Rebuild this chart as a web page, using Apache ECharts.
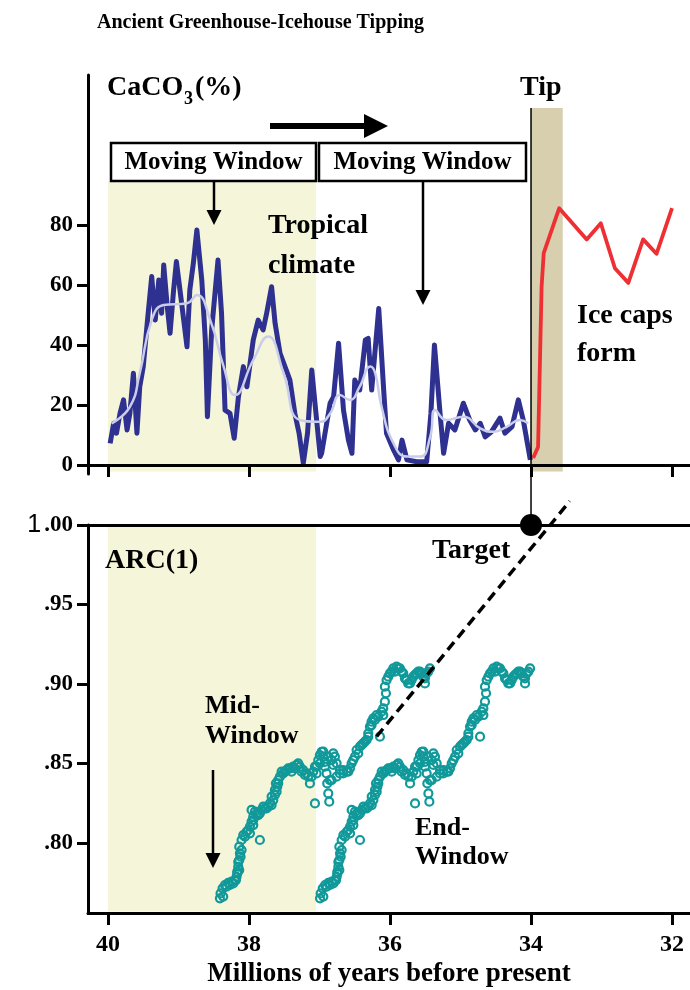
<!DOCTYPE html>
<html>
<head>
<meta charset="utf-8">
<script src="https://cdn.jsdelivr.net/npm/echarts@6/dist/echarts.min.js"></script>
<style>
  html, body { margin: 0; padding: 0; background: #fff; }
  #chart { width: 690px; height: 990px; }
</style>
</head>
<body>
<div id="chart"></div>
<script>
// ---- Data -------------------------------------------------------------
// Age axis (millions of years before present)
const ageTicks = [40, 38, 36, 34, 32];
const caco3Ticks = [0, 20, 40, 60, 80];
const arcTicks = [0.80, 0.85, 0.90, 0.95, 1.00];

// CaCO3 record before the tipping point
const caco3Age = [39.97,39.92,39.88,39.83,39.78,39.73,39.69,39.64,39.59,39.55,39.50,39.44,39.38,39.33,39.28,39.24,39.21,39.16,39.12,39.07,39.03,38.95,38.88,38.84,38.79,38.74,38.67,38.62,38.59,38.53,38.44,38.39,38.34,38.27,38.21,38.15,38.08,38.03,37.94,37.87,37.80,37.75,37.68,37.63,37.56,37.49,37.42,37.35,37.29,37.23,37.17,37.11,37.05,36.99,36.97,36.85,36.80,36.73,36.66,36.59,36.54,36.50,36.43,36.35,36.31,36.26,36.16,36.09,36.05,35.95,35.88,35.83,35.76,35.62,35.48,35.42,35.37,35.29,35.24,35.17,35.08,34.96,34.87,34.79,34.72,34.65,34.56,34.44,34.37,34.27,34.18,34.11,34.01];
const caco3Value = [7.2,13.9,10.6,17.2,21.7,11.7,17.2,30.6,10.6,26.1,32.8,48.3,62.8,48.3,61.7,50.6,66.7,52.8,43.9,58.3,67.8,52.8,39.4,58.3,67.2,78.3,61.7,41.7,16.1,45,68.3,50.6,18.3,17.2,8.9,22.8,32.8,26.1,41.7,48.3,45,50.6,59.4,47.2,37.2,32.8,28.3,17.2,10.6,0.6,10.6,31.7,17.2,2.8,3.9,20.6,22.8,40.6,18.3,8.3,3.9,28.3,25,41.7,42.2,25,52.2,25,10.6,5,1.7,8.3,1.7,1.1,1.1,17.2,40,17.2,3.9,13.9,11.7,20.6,15,11.7,13.9,9.4,11.1,15.6,10.6,12.8,21.7,15,1.7];

// Smoothed CaCO3 trend
const smoothAge = [39.95,39.69,39.55,39.38,39.21,38.88,38.74,38.55,38.36,38.20,37.94,37.73,37.51,37.28,36.99,36.85,36.71,36.57,36.43,36.28,36.21,36.12,35.95,35.76,35.57,35.43,35.36,35.20,34.96,34.72,34.53,34.34,34.16,34.04];
const smoothValue = [13.9,19.4,30.6,48.3,53.3,53.9,56.7,48.3,32.8,23.3,35,42.8,30.6,15,14.4,17.2,23.3,21.7,26.1,32.8,30.6,19.4,7.2,2.8,2.8,9.4,18.3,15,16.1,12.2,11.1,12.8,15,13.9];

// CaCO3 after the tip (ice caps)
const iceAge = [33.97,33.90,33.85,33.82,33.60,33.21,33.01,32.81,32.62,32.41,32.22,32.00];
const iceValue = [2.3,6,59.4,70.6,85.6,75.2,80.6,65.6,60.7,75.2,70.4,85.6];

// ARC(1) indicator, stamped at the window end and at the window middle
const arcValues = [.7652,.7683,.7715,.7736,.7750,.7757,.7763,.7788,.7820,.7851,
  .7893,.7935,.7977,.8019,.8050,.8071,.8103,.8134,.8166,.8197,
  .8208,.8145,.8176,.8019,.8208,.8218,.8229,.8239,.8270,.8302,
  .8323,.8354,.8396,.8417,.8438,.8459,.8470,.8480,.8491,.8480,
  .8459,.8438,.8375,.8417,.8449,.8249,.8480,.8522,.8553,.8574,
  .8543,.8511,.8438,.8375,.8312,.8260,.8396,.8522,.8564,.8543,
  .8501,.8459,.8438,.8449,.8470,.8522,.8543,.8585,.8606,.8627,
  .8648,.8690,.8732,.8763,.8784,.8805,.8669,.8826,.8847,.8983,
  .9025,.9067,.9098,.9109,.9098,.9067,.9025,.9004,.9046,.9067,
  .9078,.9046,.9004,.9067,.9098,
  .7663,.7725,.7736,.7746,.7767,.7809,.7830,.7882,.7914,.7956,
  .8040,.8082,.8061,.8113,.8187,.8187,.8229,.8218,.8250,.8292,
  .8334,.8376,.8376,.8449,.8449,.8470,.8449,.8470,.8501,.8449,
  .8428,.8417,.8480,.8438,.8501,.8575,.8480,.8543,.8396,.8491,
  .8417,.8438,.8459,.8449,.8501,.8564,.8617,.8638,.8669,.8742,
  .8774,.8795,.8805,.8889,.8942,.9046,.9078,.9078,.9099,.9078,
  .9036,.9004,.9025,.9057,.9078,.9067,.9036,.9078];
const endWindowAge = [36.993,36.984,36.955,36.922,36.875,36.827,36.780,36.757,36.747,36.733,
  36.719,36.709,36.719,36.686,36.662,36.615,36.567,36.544,36.520,36.497,
  36.544,36.520,36.449,36.426,36.402,36.355,36.307,36.260,36.236,36.213,
  36.189,36.180,36.166,36.142,36.095,36.047,36.000,35.953,35.905,35.858,
  35.811,35.764,35.716,35.693,35.669,35.645,35.622,35.598,35.575,35.551,
  35.527,35.504,35.480,35.471,35.456,35.442,35.433,35.409,35.385,35.362,
  35.338,35.291,35.244,35.196,35.149,35.102,35.078,35.054,35.007,34.960,
  34.913,34.889,34.865,34.842,34.818,34.771,34.723,34.700,34.676,34.653,
  34.629,34.582,34.534,34.487,34.440,34.392,34.345,34.298,34.251,34.203,
  34.156,34.109,34.085,34.062,34.014,
  36.946,36.898,36.851,36.804,36.766,36.747,36.719,36.733,36.700,36.686,
  36.638,36.591,36.567,36.520,36.473,36.426,36.378,36.331,36.284,36.260,
  36.213,36.199,36.166,36.118,36.071,36.024,35.976,35.929,35.882,35.835,
  35.787,35.740,35.645,35.622,35.575,35.527,35.504,35.456,35.409,35.385,
  35.338,35.291,35.244,35.173,35.125,35.031,34.983,34.936,34.889,34.842,
  34.794,34.747,34.676,34.653,34.638,34.605,34.558,34.511,34.463,34.416,
  34.369,34.322,34.274,34.227,34.180,34.132,34.085,34.038];
const midWindowAge = [38.413,38.404,38.375,38.342,38.295,38.247,38.200,38.177,38.167,38.153,
  38.139,38.129,38.139,38.106,38.082,38.035,37.987,37.964,37.940,37.917,
  37.964,37.940,37.869,37.846,37.822,37.775,37.727,37.680,37.656,37.633,
  37.609,37.600,37.586,37.562,37.515,37.467,37.420,37.373,37.325,37.278,
  37.231,37.184,37.136,37.113,37.089,37.065,37.042,37.018,36.995,36.971,
  36.947,36.924,36.900,36.891,36.876,36.862,36.853,36.829,36.805,36.782,
  36.758,36.711,36.664,36.616,36.569,36.522,36.498,36.474,36.427,36.380,
  36.333,36.309,36.285,36.262,36.238,36.191,36.143,36.120,36.096,36.073,
  36.049,36.002,35.954,35.907,35.860,35.812,35.765,35.718,35.671,35.623,
  35.576,35.529,35.505,35.482,35.434,
  38.366,38.318,38.271,38.224,38.186,38.167,38.139,38.153,38.120,38.106,
  38.058,38.011,37.987,37.940,37.893,37.846,37.798,37.751,37.704,37.680,
  37.633,37.619,37.586,37.538,37.491,37.444,37.396,37.349,37.302,37.255,
  37.207,37.160,37.065,37.042,36.995,36.947,36.924,36.876,36.829,36.805,
  36.758,36.711,36.664,36.593,36.545,36.451,36.403,36.356,36.309,36.262,
  36.214,36.167,36.096,36.073,36.058,36.025,35.978,35.931,35.883,35.836,
  35.789,35.742,35.694,35.647,35.600,35.552,35.505,35.458];

// Extrapolated trend toward ARC(1) = 1
const trendAge = [36.19, 33.45];
const trendValue = [0.867, 1.015];

// Tipping point target
const tipAge = 34.0;
const targetArc = 1.0;

// Shaded spans (ages)
const windowSpan = [40.0, 37.05];
const tipSpan = [34.0, 33.55];

// ---- Styling helpers ----------------------------------------------------
const SERIF = '"Liberation Serif", "Times New Roman", serif';
const SANS = '"Liberation Sans", Arial, sans-serif';
const CREAM = '#F5F5D9';
const TAN = '#D7CFAD';
const BLUE = '#2F3190';
const LAVENDER = '#C9CDEB';
const RED = '#EE2F33';
const TEAL = '#11999A';

const zip = (xs, ys) => xs.map((x, i) => [x, ys[i]]);

// x range runs from the y-axis line to the right edge of the figure
const AGE_LEFT = 40.284, AGE_RIGHT = 31.745;

const chart = echarts.init(document.getElementById('chart'), null, { renderer: 'canvas' });

const axisLabelStyle = { fontFamily: SERIF, fontWeight: 'bold', fontSize: 23, color: '#000' };
const blackLine = { color: '#000', width: 3 };

function txt(x, y, text, size, extra) {
  return Object.assign({
    type: 'text', x: x, y: y, z: 120,
    style: { text: text, font: 'bold ' + size + 'px ' + SERIF, fill: '#000',
             align: 'left', verticalAlign: 'top', textAlign: 'left', textVerticalAlign: 'top' }
  }, extra || {});
}
function arrowDown(x, y1, y2) {
  return [
    { type: 'line', z: 110, shape: { x1: x, y1: y1, x2: x, y2: y2 - 12 }, style: { stroke: '#000', lineWidth: 2.5 } },
    { type: 'polygon', z: 110, shape: { points: [[x - 7.5, y2 - 15], [x + 7.5, y2 - 15], [x, y2]] }, style: { fill: '#000' } }
  ];
}
function box(x, y, w, h, label) {
  return [
    { type: 'rect', z: 110, shape: { x: x, y: y, width: w, height: h }, style: { fill: '#fff', stroke: '#000', lineWidth: 2.5 } },
    { type: 'text', z: 111, x: x + w / 2, y: y + h / 2 + 1,
      style: { text: label, font: 'bold 25px ' + SERIF, fill: '#000', align: 'center', verticalAlign: 'middle',
               textAlign: 'center', textVerticalAlign: 'middle' } }
  ];
}

const graphics = [].concat(
  box(111, 143, 205, 38, 'Moving Window'),
  box(319, 143, 207, 38, 'Moving Window'),
  [
    { type: 'line', z: 110, shape: { x1: 270, y1: 126, x2: 368, y2: 126 }, style: { stroke: '#000', lineWidth: 6 } },
    { type: 'polygon', z: 110, shape: { points: [[364, 114], [388, 126], [364, 138]] }, style: { fill: '#000' } }
  ],
  arrowDown(214, 181, 225),
  arrowDown(423, 181, 305),
  arrowDown(213, 770, 868),
  [
    txt(107, 74, 'CaCO', 28),
    txt(184, 90, '3', 18),
    txt(195, 74, '(%)', 28),
    txt(520, 74, 'Tip', 28),
    txt(268, 212, 'Tropical', 28),
    txt(268, 252, 'climate', 28),
    txt(577, 302, 'Ice caps', 28),
    txt(577, 340, 'form', 28),
    txt(105, 547, 'ARC(1)', 28),
    txt(432, 537, 'Target', 28),
    txt(205, 693, 'Mid-', 26),
    txt(205, 723, 'Window', 26),
    txt(415, 815, 'End-', 26),
    txt(415, 844, 'Window', 26)
  ]
);

const circleStyle = { color: 'rgba(255,255,255,0)', borderColor: TEAL, borderWidth: 2.2, opacity: 1 };

const option = {
  animation: false,
  backgroundColor: '#fff',
  title: {
    text: 'Ancient Greenhouse-Icehouse Tipping',
    left: 92, top: 8,
    textStyle: { fontFamily: SERIF, fontWeight: 'bold', fontSize: 20, color: '#000' }
  },
  grid: [
    { left: 88, top: 75, width: 602, height: 399, containLabel: false, outerBoundsMode: 'none' },
    { left: 88, top: 525, width: 602, height: 388, containLabel: false, outerBoundsMode: 'none' }
  ],
  xAxis: [
    {
      gridIndex: 0, type: 'value', min: AGE_RIGHT, max: AGE_LEFT, inverse: true, z: 10,
      axisLine: { show: true, lineStyle: blackLine },
      axisTick: { show: true, customValues: ageTicks, length: 12, lineStyle: blackLine },
      axisLabel: { show: false },
      splitLine: { show: false }
    },
    {
      gridIndex: 1, type: 'value', min: AGE_RIGHT, max: AGE_LEFT, inverse: true, z: 10,
      axisLine: { show: true, lineStyle: blackLine },
      axisTick: { show: true, customValues: ageTicks, length: 12, lineStyle: blackLine },
      axisLabel: { customValues: ageTicks, margin: 20, fontSize: 24,
        formatter: v => String(Math.round(v)), fontFamily: SERIF, fontWeight: 'bold', color: '#000' },
      splitLine: { show: false },
      name: 'Millions of years before present',
      nameLocation: 'middle', nameGap: 48,
      nameTextStyle: { fontFamily: SERIF, fontWeight: 'bold', fontSize: 27, color: '#000' }
    }
  ],
  yAxis: [
    {
      gridIndex: 0, type: 'value', min: -3, max: 130, z: 10,
      axisLine: { show: true, lineStyle: blackLine },
      axisTick: { show: true, customValues: caco3Ticks, length: 11, lineStyle: blackLine },
      axisLabel: Object.assign({ customValues: caco3Ticks, margin: 15 }, axisLabelStyle),
      splitLine: { show: false }
    },
    {
      gridIndex: 1, type: 'value', min: 0.756, max: 1.0, z: 10,
      axisLine: { show: true, lineStyle: blackLine },
      axisTick: { show: true, customValues: arcTicks, length: 11, lineStyle: blackLine },
      axisLabel: {
        customValues: arcTicks, margin: 15,
        formatter: v => v > 0.999 ? '{one|1}{dec|.00}' : '{dec|' + v.toFixed(2).slice(1) + '}',
        rich: {
          one: { fontFamily: SANS, fontSize: 25, color: '#000', padding: [0, 3, 0, 0] },
          dec: { fontFamily: SERIF, fontWeight: 'bold', fontSize: 23, color: '#000' }
        }
      },
      splitLine: { show: false }
    }
  ],
  graphic: { elements: graphics },
  series: [
    {
      // shaded spans in the CaCO3 panel
      type: 'line', xAxisIndex: 0, yAxisIndex: 0, data: [], silent: true,
      markArea: {
        silent: true,
        data: [
          [{ xAxis: windowSpan[0], yAxis: 94.7, itemStyle: { color: CREAM } }, { xAxis: windowSpan[1], yAxis: -2.2 }],
          [{ xAxis: tipSpan[0], yAxis: 119, itemStyle: { color: TAN } }, { xAxis: tipSpan[1], yAxis: -2.2 }]
        ]
      }
    },
    {
      // shaded window span in the ARC(1) panel, plus the ARC = 1 reference line
      type: 'line', xAxisIndex: 1, yAxisIndex: 1, data: [], silent: true,
      markArea: {
        silent: true,
        data: [[{ xAxis: windowSpan[0], yAxis: 1.0, itemStyle: { color: CREAM } }, { xAxis: windowSpan[1], yAxis: 0.757 }]]
      },
      markLine: {
        silent: true, symbol: 'none', label: { show: false },
        lineStyle: { color: '#000', width: 3, type: 'solid' },
        data: [{ yAxis: targetArc }]
      }
    },
    {
      name: 'CaCO3', type: 'line', xAxisIndex: 0, yAxisIndex: 0, z: 3,
      data: zip(caco3Age, caco3Value), showSymbol: false,
      lineStyle: { color: BLUE, width: 5, join: 'round' }
    },
    {
      name: 'Trend', type: 'line', xAxisIndex: 0, yAxisIndex: 0, z: 4, smooth: 0.5,
      data: zip(smoothAge, smoothValue), showSymbol: false,
      lineStyle: { color: LAVENDER, width: 2.5 }
    },
    {
      name: 'Ice', type: 'line', xAxisIndex: 0, yAxisIndex: 0, z: 4,
      data: zip(iceAge, iceValue), showSymbol: false,
      lineStyle: { color: RED, width: 3.8, join: 'round' }
    },
    {
      // tip marker running from the top panel down to the target
      type: 'line', xAxisIndex: 0, yAxisIndex: 0, z: 5, clip: false, silent: true,
      data: [[tipAge, 119], [tipAge, -20]], showSymbol: false,
      lineStyle: { color: '#000', width: 1.5 }
    },
    {
      name: 'Mid-Window', type: 'scatter', xAxisIndex: 1, yAxisIndex: 1, z: 3,
      data: zip(midWindowAge, arcValues), symbol: 'circle', symbolSize: 8,
      itemStyle: circleStyle
    },
    {
      name: 'End-Window', type: 'scatter', xAxisIndex: 1, yAxisIndex: 1, z: 3,
      data: zip(endWindowAge, arcValues), symbol: 'circle', symbolSize: 8,
      itemStyle: circleStyle
    },
    {
      type: 'line', xAxisIndex: 1, yAxisIndex: 1, z: 6, clip: false, silent: true,
      data: zip(trendAge, trendValue), showSymbol: false,
      lineStyle: { color: '#000', width: 3.5, type: [10, 6] }
    },
    {
      type: 'scatter', xAxisIndex: 1, yAxisIndex: 1, z: 7, clip: false, silent: true,
      data: [[tipAge, targetArc]], symbol: 'circle', symbolSize: 22,
      itemStyle: { color: '#000', opacity: 1 }
    }
  ]
};

chart.setOption(option);
</script>
</body>
</html>
